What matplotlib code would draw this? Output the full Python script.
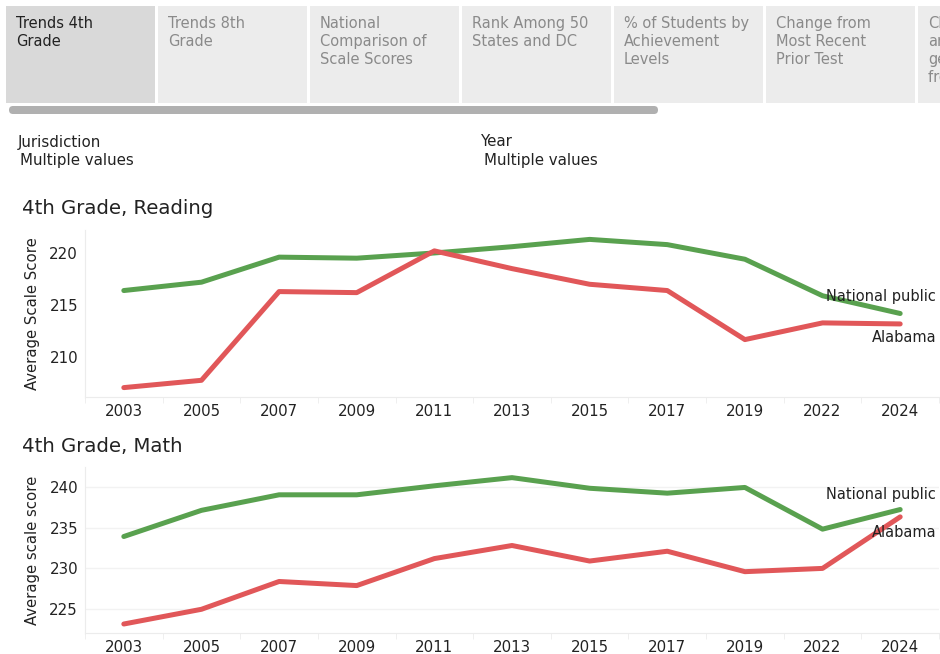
import matplotlib
matplotlib.use("Agg")
import matplotlib.pyplot as plt
import numpy as np
from matplotlib.patches import Rectangle, FancyBboxPatch

# Dados
tabs = ["Trends 4th\nGrade", "Trends 8th\nGrade", "National\nComparison of\nScale Scores",
        "Rank Among 50\nStates and DC", "% of Students by\nAchievement\nLevels",
        "Change from\nMost Recent\nPrior Test", "Change\nand\ngender\nfrom prior"]
years = ["2003", "2005", "2007", "2009", "2011", "2013", "2015", "2017", "2019", "2022", "2024"]

reading_national = [216.4, 217.2, 219.6, 219.5, 220.0, 220.6, 221.3, 220.8, 219.4, 215.9, 214.2]
reading_alabama = [207.1, 207.8, 216.3, 216.2, 220.2, 218.5, 217.0, 216.4, 211.7, 213.3, 213.2]
math_national = [233.9, 237.1, 239.0, 239.0, 240.1, 241.1, 239.8, 239.2, 239.9, 234.8, 237.2]
math_alabama = [223.2, 225.0, 228.4, 227.9, 231.2, 232.8, 230.9, 232.1, 229.6, 230.0, 236.3]

GREEN = "#59a14f"
RED = "#e15759"
W, H = 940, 654

fig = plt.figure(figsize=(W / 100, H / 100), dpi=100)

# camada de fundo em pixels para as abas e filtros
ov = fig.add_axes([0, 0, 1, 1])
ov.set_xlim(0, W)
ov.set_ylim(H, 0)
ov.axis("off")

for i, label in enumerate(tabs):
    x0 = 6 + i * 152
    face = "#d9d9d9" if i == 0 else "#ececec"
    ov.add_patch(Rectangle((x0, 6), 149, 97, facecolor=face, edgecolor="none"))
    # a ultima aba fica cortada pela borda, como no painel original
    ov.text(x0 + 10, 16, label, ha="left", va="top", fontsize=10.5,
            color="#222222" if i == 0 else "#8a8a8a", linespacing=1.25, clip_on=True)

ov.add_patch(FancyBboxPatch((9, 106), 649, 8, boxstyle="round,pad=0,rounding_size=4",
                            facecolor="#b0b0b0", edgecolor="none"))

ov.text(18, 142, "Jurisdiction", fontsize=10.8, va="center", color="#222222")
ov.text(20, 160, "Multiple values", fontsize=10.8, va="center", color="#222222")
ov.text(481, 142, "Year", fontsize=10.8, va="center", color="#222222")
ov.text(484, 160, "Multiple values", fontsize=10.8, va="center", color="#222222")


def make_panel(rect_px, title, ylabel, national, alabama, ylim, yticks, grid, offs):
    l, t, r, b = rect_px
    ax = fig.add_axes([l / W, 1 - b / H, (r - l) / W, (b - t) / H])
    x = np.arange(len(years))
    ax.plot(x, national, color=GREEN, lw=3.6, solid_capstyle="round")
    ax.plot(x, alabama, color=RED, lw=3.6, solid_capstyle="round")
    ax.set_xlim(-0.5, len(years) - 0.5)
    ax.set_ylim(*ylim)
    ax.set_xticks(x)
    ax.set_xticklabels(years)
    ax.set_xticks(np.arange(-0.5, len(years), 1), minor=True)
    ax.set_yticks(yticks)
    ax.tick_params(axis="both", which="major", length=0, labelsize=10.8, colors="#222222", pad=5)
    ax.tick_params(axis="x", which="minor", length=4, color="#ececec")
    for s in ["top", "right"]:
        ax.spines[s].set_visible(False)
    ax.spines["left"].set_color("#ececec")
    ax.spines["bottom"].set_color("#ececec")
    if grid:
        ax.yaxis.grid(True, color="#f2f2f2", lw=1)
        ax.set_axisbelow(True)
    ax.set_ylabel(ylabel, fontsize=10.7, color="#222222", labelpad=7)
    fig.text(22 / W, 1 - (t - 21) / H, title, fontsize=14.2, va="center", ha="left", color="#222222")
    ax.annotate("National public", (x[-1], national[-1]), xytext=(26, offs[0]),
                textcoords="offset points", ha="right", va="center", fontsize=10.5, color="#222222")
    ax.annotate("Alabama", (x[-1], alabama[-1]), xytext=(26, offs[1]),
                textcoords="offset points", ha="right", va="center", fontsize=10.5, color="#222222")
    return ax


make_panel((85, 230, 939, 397), "4th Grade, Reading", "Average Scale Score",
           reading_national, reading_alabama, (206.2, 222.2), [210, 215, 220], False, (12, -10))
make_panel((85, 467, 939, 633), "4th Grade, Math", "Average scale score",
           math_national, math_alabama, (222.1, 242.4), [225, 230, 235, 240], True, (11, -11))

fig.savefig("out.png", dpi=100)
